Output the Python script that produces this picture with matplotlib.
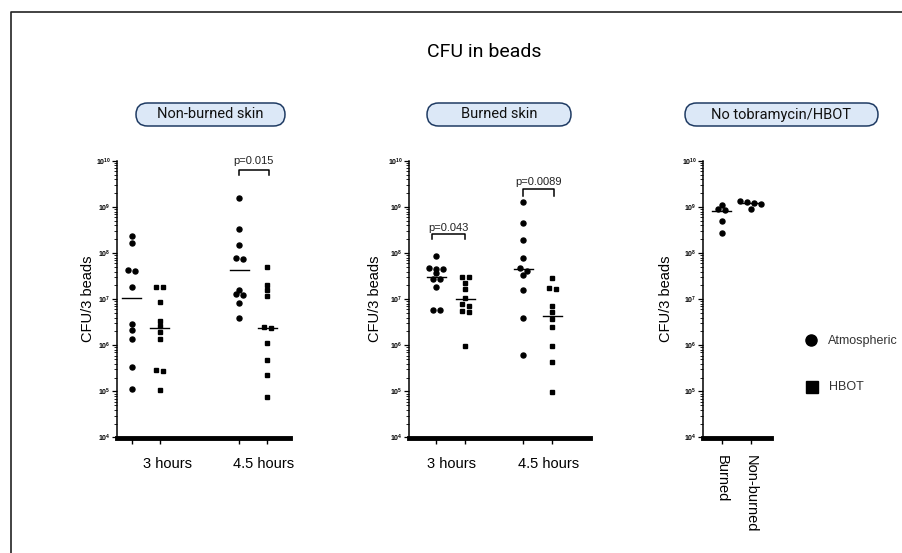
import numpy as np
import matplotlib.pyplot as plt
from matplotlib.patches import FancyBboxPatch
from matplotlib.lines import Line2D
from matplotlib.ticker import LogLocator, NullFormatter

plt.rcParams['font.family'] = ['Liberation Sans', 'DejaVu Sans']

W, H = 903, 553

# CFU per 3 beads
time_labels = ['3 hours', '4.5 hours']
skin_labels = ['Burned', 'Non-burned']
panel_titles = ['Non-burned skin', 'Burned skin', 'No tobramycin/HBOT']
legend_labels = ['Atmospheric', 'HBOT']
p_values = ['p=0.015', 'p=0.043', 'p=0.0089']

nb_atm_3h = [2.3e8, 1.7e8, 4.4e7, 4.2e7, 1.8e7, 2.9e6, 2.1e6, 1.4e6, 3.4e5, 1.15e5]
nb_hbot_3h = [1.85e7, 1.8e7, 8.6e6, 3.4e6, 2.6e6, 1.9e6, 1.4e6, 2.9e5, 2.8e5, 1.1e5]
nb_atm_45h = [1.6e9, 3.4e8, 1.5e8, 8.0e7, 7.4e7, 1.6e7, 1.3e7, 1.25e7, 8.3e6, 4.0e6]
nb_hbot_45h = [5.0e7, 2.0e7, 1.6e7, 1.2e7, 2.5e6, 2.35e6, 1.15e6, 4.8e5, 2.3e5, 7.5e4]
nb_medians = [1.07e7, 2.4e6, 4.4e7, 2.4e6]

b_atm_3h = [8.5e7, 4.7e7, 4.6e7, 4.5e7, 3.7e7, 2.8e7, 2.75e7, 1.8e7, 5.9e6, 5.8e6]
b_hbot_3h = [3.1e7, 3.0e7, 2.3e7, 1.7e7, 1.07e7, 7.7e6, 7.0e6, 5.6e6, 5.3e6, 9.8e5]
b_atm_45h = [1.3e9, 4.5e8, 1.9e8, 8.0e7, 4.8e7, 4.2e7, 3.4e7, 1.6e7, 4.0e6, 6.3e5]
b_hbot_45h = [2.9e7, 1.75e7, 1.7e7, 7.2e6, 5.2e6, 3.7e6, 2.45e6, 9.8e5, 4.4e5, 9.6e4]
b_medians = [3.1e7, 1.0e7, 4.5e7, 4.3e6]

ctrl_burned = [1.12e9, 9.2e8, 8.5e8, 4.9e8, 2.8e8]
ctrl_nonburned = [1.38e9, 1.26e9, 1.25e9, 1.18e9, 9.2e8]
ctrl_medians = [8.1e8, 1.2e9]


def row_offsets(values, step, thr=0.08):
    # prism-like dot plot: points in the same log bin sit side by side
    logs = np.log10(values)
    order = np.argsort(-logs)
    offs = np.zeros(len(values))
    rows = []
    for i in order:
        if rows and logs[rows[-1][0]] - logs[i] <= thr:
            rows[-1].append(i)
        else:
            rows.append([i])
    for row in rows:
        n = len(row)
        for j, i in enumerate(row):
            offs[i] = (j - (n - 1) / 2) * step
    return offs


panels = [
    dict(title=panel_titles[0], x_px=(117, 290), xlim=(0.48, 6.6), box_px=(136, 285),
         series=[(1.0, nb_atm_3h, 'o'), (2.0, nb_hbot_3h, 's'),
                 (4.8, nb_atm_45h, 'o'), (5.8, nb_hbot_45h, 's')],
         medians=nb_medians, groups=time_labels, group_x=[2.25, 5.67], rot=0, ylab_px=22,
         brackets=[(4.8, 5.85, 9.70, 9.80, 10.0, p_values[0])]),
    dict(title=panel_titles[1], x_px=(409, 590), xlim=(0.07, 6.3), box_px=(427, 571),
         series=[(1.0, b_atm_3h, 'o'), (2.0, b_hbot_3h, 's'),
                 (4.0, b_atm_45h, 'o'), (5.0, b_hbot_45h, 's')],
         medians=b_medians, groups=time_labels, group_x=[1.53, 4.89], rot=0, ylab_px=27,
         brackets=[(0.85, 2.0, 8.30, 8.41, 8.55, p_values[1]),
                   (4.0, 5.05, 9.25, 9.385, 9.54, p_values[2])]),
    dict(title=panel_titles[2], x_px=(703, 771), xlim=(0.345, 2.69), box_px=(685, 878),
         series=[(1.0, ctrl_burned, 'o'), (2.0, ctrl_nonburned, 'o')],
         medians=ctrl_medians, groups=skin_labels, group_x=None, rot=-90, ylab_px=30,
         brackets=[]),
]

fig = plt.figure(figsize=(W / 100, H / 100), dpi=100)
Y_TOP, Y_BOT = 161, 437.5

for p in panels:
    x0, x1 = p['x_px']
    ax = fig.add_axes([x0 / W, 1 - Y_BOT / H, (x1 - x0) / W, (Y_BOT - Y_TOP) / H])
    ax.set_yscale('log')
    ax.set_ylim(1e4, 1e10)
    ax.set_xlim(*p['xlim'])
    ux = (x1 - x0) / (p['xlim'][1] - p['xlim'][0])

    for (xc, vals, mk), med in zip(p['series'], p['medians']):
        offs = row_offsets(vals, 7.0 / ux)
        ax.plot(xc + offs, vals, ls='none', marker=mk, ms=3.6 if mk == 'o' else 3.4,
                color='black', clip_on=False, zorder=3)
        hw = 9.5 / ux
        ax.plot([xc - hw, xc + hw], [med, med], color='black', lw=1.0, zorder=2)

    for s in ['top', 'right']:
        ax.spines[s].set_visible(False)
    ax.spines['left'].set_linewidth(1.1)
    ax.spines['bottom'].set_linewidth(3.5)

    ax.yaxis.set_major_locator(LogLocator(base=10, numticks=10))
    ax.yaxis.set_minor_locator(LogLocator(base=10, subs=np.arange(2, 10), numticks=20))
    ax.yaxis.set_minor_formatter(NullFormatter())
    ax.tick_params(axis='y', which='major', length=3.5, width=0.9, labelsize=5, pad=1)
    ax.tick_params(axis='y', which='minor', length=2, width=0.6)
    for t in ax.get_yticklabels():
        t.set_fontweight('bold')

    ax.set_xticks([s[0] for s in p['series']])
    if p['group_x'] is None:
        # category labels sit right on the tick marks, rotated
        ax.set_xticklabels(p['groups'], rotation=p['rot'], va='top', fontsize=10.5)
        ax.tick_params(axis='x', which='major', length=4.5, width=1, pad=8)
    else:
        ax.set_xticklabels([''] * len(p['series']))
        ax.tick_params(axis='x', which='major', length=4.5, width=1)
        ax.set_xticks(p['group_x'], p['groups'], minor=True)
        ax.tick_params(axis='x', which='minor', length=0, pad=14, labelsize=10.5)

    ax.set_ylabel('CFU/3 beads', fontsize=10.5)
    ax.yaxis.set_label_coords(-p['ylab_px'] / (x1 - x0), 0.5)

    for xa, xb, yleg, ytop, ytxt, lab in p['brackets']:
        ax.plot([xa, xa, xb, xb], [10 ** yleg, 10 ** ytop, 10 ** ytop, 10 ** yleg],
                color='black', lw=1.1, clip_on=False)
        ax.text((xa + xb) / 2, 10 ** ytxt, lab, ha='center', va='center',
                fontsize=8, color='#222222', clip_on=False)

    # rounded title pill
    bx0, bx1 = p['box_px']
    box = FancyBboxPatch((bx0 / 100, (H - 126) / 100), (bx1 - bx0) / 100, 0.23,
                         boxstyle='round,pad=0,rounding_size=0.115',
                         transform=fig.dpi_scale_trans, fc='#dce8f7', ec='#1f3b63', lw=1.1)
    fig.add_artist(box)
    fig.text((bx0 + bx1) / 2 / W, 1 - 114.5 / H, p['title'], ha='center', va='center',
             family='Roboto', fontsize=10.5, color='#111111')

fig.text(484 / W, 1 - 52 / H, 'CFU in beads', ha='center', va='center',
         family='Roboto', fontsize=14)

# legend
fig.add_artist(Line2D([811 / W], [1 - 340 / H], marker='o', ms=8, color='black',
                      ls='none', transform=fig.transFigure))
fig.text(828 / W, 1 - 341 / H, legend_labels[0], ha='left', va='center', fontsize=9, color='#333333')
fig.add_artist(Line2D([812 / W], [1 - 387 / H], marker='s', ms=8.5, color='black',
                      ls='none', transform=fig.transFigure))
fig.text(829 / W, 1 - 387 / H, legend_labels[1], ha='left', va='center', fontsize=9, color='#333333')

# outer frame (top and left edges only visible)
fig.add_artist(Line2D([11 / W, 11 / W, 1.0], [0.0, 1 - 12 / H, 1 - 12 / H],
                      color='#222222', lw=1.2, transform=fig.transFigure))

fig.savefig('out.png', dpi=100)
